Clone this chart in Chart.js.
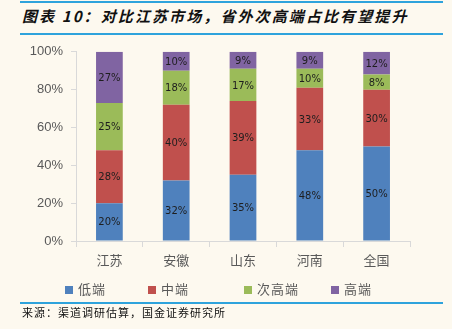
<!DOCTYPE html>
<html>
<head>
<meta charset="utf-8">
<script src="https://cdn.jsdelivr.net/npm/chart.js@4.4.1/dist/chart.umd.min.js"></script>
<style>
  body { margin: 0; background: #fdf9ef; width: 452px; height: 329px; position: relative; overflow: hidden; font-family: "Noto Sans CJK SC", sans-serif; }
  .rule { position: absolute; left: 20px; width: 423px; height: 2px; background: #2ea3dc; }
  #title { position: absolute; left: 22px; top: 5px; font-size: 15px; font-weight: bold; font-style: italic; color: #111; letter-spacing: 2.1px; }
  #chartBox { position: absolute; left: 0; top: 36px; }
  #legend { position: absolute; top: 279px; left: 0; width: 452px; height: 20px; }
  .legendItem { position: absolute; top: 0; font-size: 13px; color: #595959; line-height: 20px; letter-spacing: 1px; white-space: nowrap; }
  .legendItem span { display: inline-block; width: 8px; height: 8px; margin-right: 5px; vertical-align: 0px; }
  #source { position: absolute; left: 22px; top: 304px; font-size: 11px; color: #111; letter-spacing: 1px; }
</style>
</head>
<body>
<div class="rule" style="top:1px"></div>
<div id="title">图表 10：对比江苏市场，省外次高端占比有望提升</div>
<div class="rule" style="top:33px"></div>
<div id="chartBox"><canvas id="shareChart" width="452" height="245"></canvas></div>
<div id="legend"></div>
<div class="rule" style="top:302px"></div>
<div id="source">来源：渠道调研估算，国金证券研究所</div>

<script>
// catégories et parts (%)
const regions = ['江苏', '安徽', '山东', '河南', '全国'];
const lowEnd = [20, 32, 35, 48, 50];
const midEnd = [28, 40, 39, 33, 30];
const subHigh = [25, 18, 17, 10, 8];
const highEnd = [27, 10, 9, 9, 12];
const yTicks = [0, 20, 40, 60, 80, 100];

// étiquettes de valeur au milieu de chaque segment
const barLabels = {
    id: 'barLabels',
    afterDatasetsDraw(chart) {
        const ctx = chart.ctx;
        ctx.save();
        ctx.font = '10px "DejaVu Sans"';
        ctx.fillStyle = '#1e1e1e';
        ctx.textAlign = 'center';
        ctx.textBaseline = 'middle';
        chart.data.datasets.forEach((ds, i) => {
            chart.getDatasetMeta(i).data.forEach((bar, j) => {
                ctx.fillText(ds.data[j] + '%', bar.x, (bar.y + bar.base) / 2 + 1);
            });
        });
        ctx.restore();
    }
};

const axisColor = '#d9d9d9';
const tickColor = '#595959';

const ctx = document.getElementById('shareChart').getContext('2d');
const chart = new Chart(ctx, {
    type: 'bar',
    data: {
        labels: regions,
        datasets: [
            { label: '低端', data: lowEnd, backgroundColor: '#4f81bd' },
            { label: '中端', data: midEnd, backgroundColor: '#c0504d' },
            { label: '次高端', data: subHigh, backgroundColor: '#9bbb59' },
            { label: '高端', data: highEnd, backgroundColor: '#8064a2' }
        ]
    },
    options: {
        responsive: false,
        animation: false,
        layout: { padding: { left: 0, right: 42, top: 13, bottom: 0 } },
        datasets: { bar: { barPercentage: 0.4, categoryPercentage: 1 } },
        scales: {
            x: {
                stacked: true,
                grid: { display: true, drawOnChartArea: false, offset: true, tickLength: 6, color: axisColor },
                border: { color: axisColor },
                ticks: { color: tickColor, font: { family: '"Noto Sans CJK SC"', size: 13 }, padding: 5 },
                afterFit: s => { s.height = 40; }
            },
            y: {
                stacked: true,
                min: 0,
                max: 100,
                afterBuildTicks: s => { s.ticks = yTicks.map(v => ({ value: v })); },
                grid: { display: true, drawOnChartArea: false, tickLength: 5, color: axisColor },
                border: { color: axisColor },
                ticks: { color: tickColor, font: { family: '"Liberation Sans"', size: 13 }, padding: 8, callback: v => v + '%' },
                afterFit: s => { s.width = 76; }
            }
        },
        plugins: {
            legend: { display: false },
            tooltip: { enabled: false }
        }
    },
    plugins: [barLabels]
});

// légende en HTML, positions comme sur l'original
const legendX = [65, 148, 244, 331];
const legendBox = document.getElementById('legend');
chart.data.datasets.forEach((ds, i) => {
    let item = document.createElement('div');
    item.classList.add('legendItem');
    item.style.left = legendX[i] + 'px';
    let swatch = document.createElement('span');
    swatch.style.background = ds.backgroundColor;
    item.appendChild(swatch);
    item.appendChild(document.createTextNode(ds.label));
    legendBox.appendChild(item);
});
</script>
</body>
</html>
